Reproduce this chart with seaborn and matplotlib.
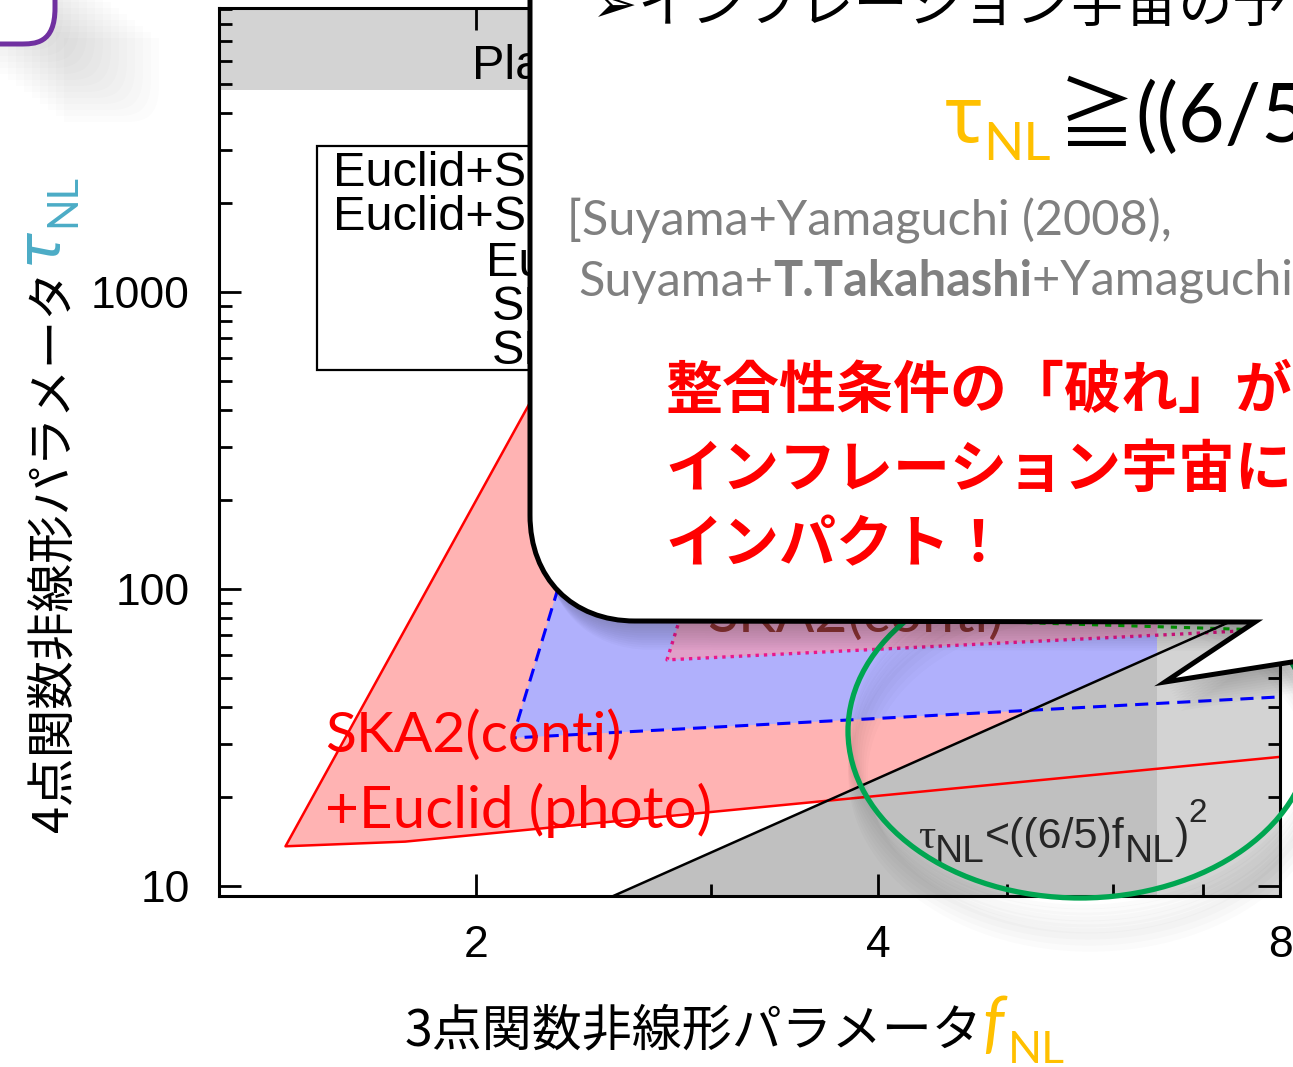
import matplotlib
matplotlib.use("Agg")
import matplotlib.pyplot as plt
import seaborn as sns
from matplotlib.patches import PathPatch, Ellipse, Rectangle
from matplotlib.path import Path
from matplotlib.transforms import Affine2D
from matplotlib.ticker import FixedLocator, LogLocator, NullFormatter

# forecast regions in the (f_NL, tau_NL) plane
red_f = [8.0, 2.55, 1.44, 1.77, 8.0]          # SKA2(conti)+Euclid(photo)
red_tau = [600, 1440, 13.6, 14.1, 27.2]
blue_f = [8.0, 2.40, 2.13, 8.0]
blue_tau = [150, 184, 31.5, 43.3]
pink_f = [8.0, 2.95, 2.78, 8.0]               # SKA2(conti)
pink_tau = [110, 135.6, 57.7, 73.3]
green_f = [3.0, 8.0]
green_tau = [82.9, 72.5]
bound_f = [2.48, 8.0]                         # tau_NL = ((6/5) f_NL)^2
bound_tau = [8.86, 92.16]
planck_tau = 4800                             # Planck excluded above
fnl_excl = 6.47                               # excluded to the right

xticks = [2, 4, 8]
xminor = [3, 5, 6, 7]
yticks = [10, 100, 1000]
legend_labels = ["Euclid+SKA2(conti)", "Euclid+SKA1(conti)", "Euclid(photo)",
                 "SKA2(conti)", "SKA1(conti)"]

sns.set_theme(style="white")
plt.rcParams["font.family"] = ["Liberation Sans", "DejaVu Sans"]

W, H = 1293, 1067
fig = plt.figure(figsize=(W / 100, H / 100), dpi=100)
ax = fig.add_axes([219 / W, 171 / H, 1061 / W, 888 / H])
ax.set_xscale("log")
ax.set_yscale("log")
ax.set_xlim(1.284, 8.0)
ax.set_ylim(9.25, 9036)

# filled regions
ax.fill(red_f, red_tau, color="#ffb3b3", lw=0, zorder=1)
ax.fill(blue_f, blue_tau, color="#b0b0fc", lw=0, zorder=1.5)
ax.fill(pink_f, pink_tau, color="#e0a0c8", lw=0, zorder=2)
ax.fill_between(bound_f, 1, bound_tau, color="#c0c0c0", lw=0, zorder=3)
ax.axvspan(fnl_excl, 8.0, color="#d3d3d3", lw=0, zorder=4)
ax.axhspan(planck_tau, 9036, color="#d3d3d3", lw=0, zorder=4)

# outlines
sns.lineplot(x=red_f, y=red_tau, sort=False, estimator=None, color="red",
             lw=1.8, ax=ax, zorder=6)
sns.lineplot(x=blue_f, y=blue_tau, sort=False, estimator=None, color="blue",
             lw=2.2, linestyle=(0, (4.3, 2.6)), ax=ax, zorder=6)
sns.lineplot(x=pink_f, y=pink_tau, sort=False, estimator=None, color="#e8188c",
             lw=2.4, linestyle=(0, (1, 1.5)), ax=ax, zorder=6)
sns.lineplot(x=green_f, y=green_tau, sort=False, estimator=None, color="#00b000",
             lw=2.2, linestyle=(0, (2, 2.3)), ax=ax, zorder=6)
sns.lineplot(x=bound_f, y=bound_tau, sort=False, estimator=None, color="black",
             lw=1.8, ax=ax, zorder=6)

ax.xaxis.set_major_locator(FixedLocator(xticks))
ax.xaxis.set_minor_locator(FixedLocator(xminor))
ax.set_xticklabels([str(v) for v in xticks])
ax.xaxis.set_minor_formatter(NullFormatter())
ax.yaxis.set_major_locator(FixedLocator(yticks))
ax.yaxis.set_minor_locator(LogLocator(base=10, subs=range(2, 10)))
ax.set_yticklabels([str(v) for v in yticks])
ax.yaxis.set_minor_formatter(NullFormatter())
ax.tick_params(which="both", direction="in", bottom=True, left=True, top=True, right=True,
               width=2, color="black", labelcolor="black", labelsize=32, pad=21)
ax.tick_params(which="major", length=16)
ax.tick_params(which="minor", length=9)
ax.xaxis.set_zorder(7)
ax.yaxis.set_zorder(7)
for sp in ax.spines.values():
    sp.set_color("black")
    sp.set_linewidth(2.2)
    sp.set_zorder(7)
ax.set_xlabel("")
ax.set_ylabel("")

# overlay in pixel coordinates (y downwards)
ov = fig.add_axes([0, 0, 1, 1], zorder=5)
ov.set_xlim(0, W)
ov.set_ylim(H, 0)
ov.set_axis_off()
renderer = fig.canvas.get_renderer()


def run(x, y, parts, vertical=False, z=11):
    for s, dy, kw in parts:
        if vertical:
            t = ov.text(x + dy, y, s, rotation=90, rotation_mode="anchor",
                        ha="left", va="baseline", zorder=z, **kw)
            y -= t.get_window_extent(renderer).height
        else:
            t = ov.text(x, y + dy, s, ha="left", va="baseline", zorder=z, **kw)
            x += t.get_window_extent(renderer).width


# key box and texts of the original plot
ov.add_patch(Rectangle((317, 146), 700, 224, fill=False, ec="black", lw=1.6, zorder=2))
for lab, x0, yb in zip(legend_labels, [333, 333, 486, 492, 492],
                       [186, 230, 276, 320, 364]):
    ov.text(x0, yb, lab, fontsize=35, color="black", va="baseline", zorder=2)
ov.text(472, 79, "Planck", fontsize=35, color="black", va="baseline", zorder=2)

sans = ["Liberation Sans", "DejaVu Sans"]
run(918, 848, [("τ", 0, dict(fontsize=31, family=["Liberation Serif", "DejaVu Serif"])),
               ("NL", 14, dict(fontsize=28, family=sans)),
               ("<((6/5)f", 0, dict(fontsize=31, family=sans)),
               ("NL", 14, dict(fontsize=28, family=sans)),
               (")", 0, dict(fontsize=31, family=sans)),
               ("2", -26, dict(fontsize=24, family=sans))], z=2)

lato = ["Lato", "Noto Sans", "DejaVu Sans"]
ov.text(325, 752, "SKA2(conti)", fontsize=41, color="red", family=lato, zorder=2)
ov.text(325, 828, "+Euclid (photo)", fontsize=42, color="red", family=lato, zorder=2)
ov.text(707, 632, "SKA2(conti)", fontsize=41, color="#8e3434", family=lato, zorder=2)

# axis labels
jp = ["Noto Sans CJK JP", "DejaVu Sans"]
gold = "#ffc000"
run(405, 1045, [("3点関数非線形パラメータ", 0, dict(fontsize=36, family=jp, color="black")),
                ("f", 0, dict(fontsize=48, family=lato, style="italic", color=gold)),
                (" ", 0, dict(fontsize=10, family=lato)),
                ("NL", 18, dict(fontsize=32, family=lato, color=gold))])
run(67, 832, [("4点関数非線形パラメータ", 0, dict(fontsize=35, family=jp, color="black")),
              (" ", 0, dict(fontsize=20, family=jp)),
              ("τ", -11, dict(fontsize=44, family=["DejaVu Sans"], style="italic", color="#4bacc6")),
              ("NL", 8, dict(fontsize=30, family=lato, color="#4bacc6"))], vertical=True)

# green ellipse with soft shadow below it
for k in range(1, 9):
    ov.add_patch(Ellipse((1082 + k, 735 + 5 * k), 464, 334, fill=False, ec="black",
                         lw=2 + 1.5 * k, alpha=0.016, zorder=3))
ov.add_patch(Ellipse((1080, 731), 464, 334, fill=False, ec="#00a651", lw=3.8, zorder=4))

# speech bubble
C = Path
bverts = [(530, -60), (530, 515), (530, 578), (572, 621), (635, 621), (1255, 622),
          (1165, 682), (1330, 656), (1330, -60), (530, -60)]
bcodes = [C.MOVETO, C.LINETO, C.CURVE4, C.CURVE4, C.CURVE4, C.LINETO, C.LINETO,
          C.LINETO, C.LINETO, C.CLOSEPOLY]
bubble = Path(bverts, bcodes)
for k in range(1, 13):
    ov.add_patch(PathPatch(bubble.transformed(Affine2D().translate(1.3 * k, 2.4 * k)),
                           fc="black", ec="none", alpha=0.02, zorder=8))
ov.add_patch(PathPatch(bubble, fc="white", ec="black", lw=3.6, joinstyle="miter", zorder=10))

run(592, 22, [("➢", 0, dict(fontsize=39, family=jp, color="black")),
              ("インフレーション宇宙の予言", 0, dict(fontsize=39, family=jp, color="black"))])
run(945, 142, [("τ", 0, dict(fontsize=56, family=["Noto Sans", "DejaVu Sans"], color=gold)),
               ("NL", 18, dict(fontsize=38, family=lato, color=gold)),
               (" ", 0, dict(fontsize=20, family=lato)),
               ("≧", 0, dict(fontsize=56, family=jp, color="black")),
               ("((6/5)f", 0, dict(fontsize=58, family=lato, color="black")),
               ("NL", 18, dict(fontsize=38, family=lato, color="black")),
               (")", 0, dict(fontsize=58, family=lato, color="black")),
               ("2", -34, dict(fontsize=38, family=lato, color="black"))])
grey = "#808080"
run(567, 235, [("[Suyama+Yamaguchi (2008),", 0, dict(fontsize=35, family=lato, color=grey))])
run(578, 296, [("Suyama+", 0, dict(fontsize=35, family=lato, color=grey)),
               ("T.Takahashi", 0, dict(fontsize=35, family=lato, color=grey, weight="bold")),
               ("+Yamaguchi+Hamazaki (2010)]", 0, dict(fontsize=35, family=lato, color=grey))])
for line, yb in zip(["整合性条件の「破れ」が見つかれば", "インフレーション宇宙に大きな", "インパクト！"],
                    [407, 487, 562]):
    ov.text(665, yb, line, fontsize=41, family=jp, weight="bold", color="red",
            va="baseline", zorder=11)

# rounded corner of a neighbouring slide shape (top-left), with its shadow
pverts = [(-40, -40), (55, -40), (55, 8), (55, 44), (35, 44), (20, 44), (-40, 44), (-40, -40)]
pcodes = [C.MOVETO, C.LINETO, C.LINETO, C.CURVE4, C.CURVE4, C.CURVE4, C.LINETO, C.CLOSEPOLY]
pshape = Path(pverts, pcodes)
for k in range(1, 14):
    ov.add_patch(PathPatch(pshape.transformed(Affine2D().translate(8 * k, 6 * k)),
                           fc="black", ec="none", alpha=0.012, zorder=12))
ov.add_patch(PathPatch(pshape, fc="white", ec="#7030a0", lw=3.6, zorder=13))

fig.savefig("out.png", dpi=100, facecolor="white")
